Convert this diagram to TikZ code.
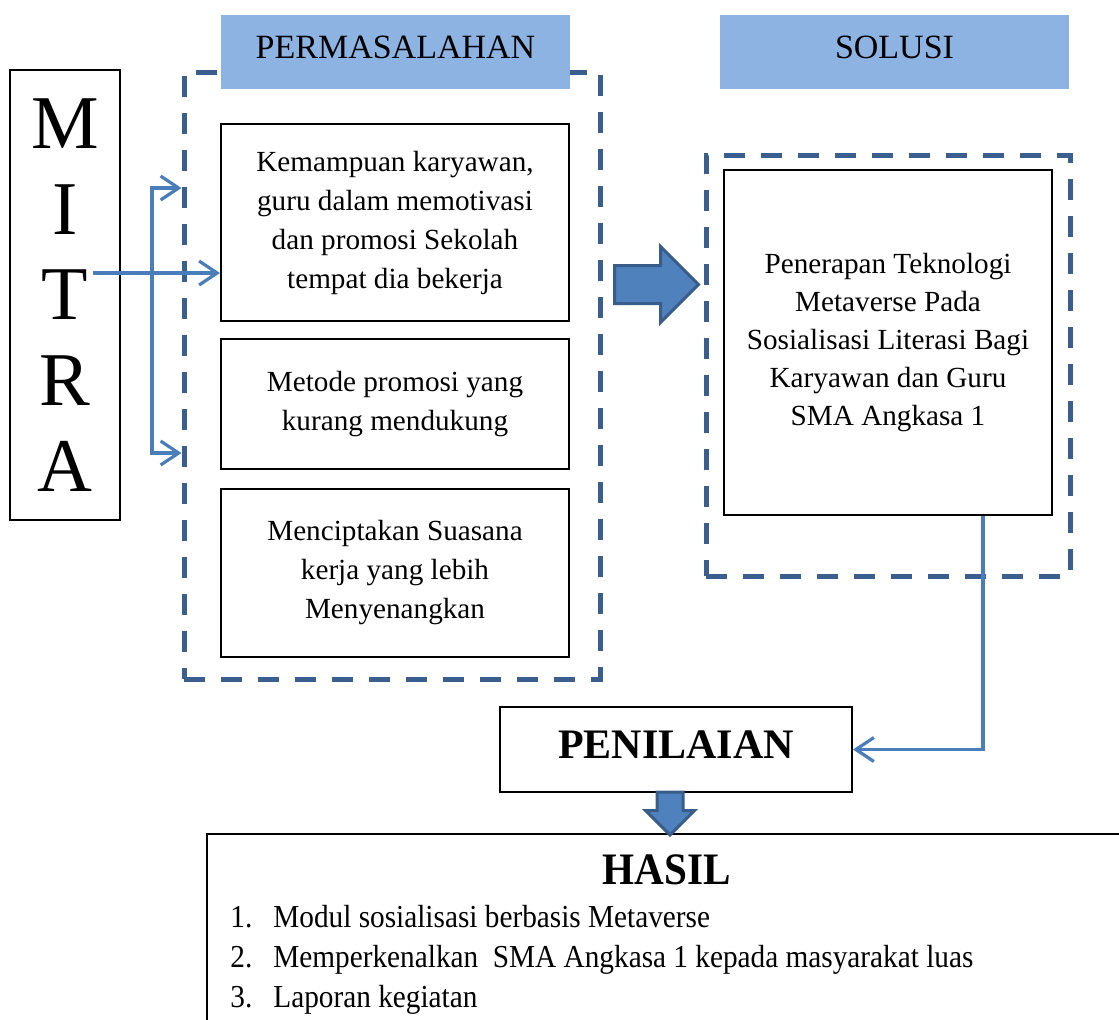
\documentclass[tikz,border=0pt]{standalone}
\usepackage{fontspec}
\setmainfont{Liberation Serif}
\newfontfamily\narrowfont[FakeStretch=0.915]{Liberation Serif}
\usetikzlibrary{arrows.meta,shapes.arrows}
\definecolor{framecol}{HTML}{3A5F8F}
\definecolor{headcol}{HTML}{8DB3E2}
\definecolor{linkcol}{HTML}{4A7EBB}
\definecolor{arrowfill}{HTML}{4F81BD}
\definecolor{arrowline}{HTML}{385D8A}
\begin{document}
\begin{tikzpicture}[x=0.5pt,y=-0.5pt,
    every node/.style={inner sep=0pt, align=center, font=\fontsize{14.6}{19.5}\selectfont},
    box/.style={draw=black, line width=1pt},
    groupframe/.style={draw=framecol, line width=2.5pt, dash pattern=on 10.5pt off 8pt},
    headbox/.style={fill=headcol, minimum width=174.5pt, minimum height=37pt, text depth=5pt,
      font=\fontsize{17}{20}\selectfont},
    >={Straight Barb[length=9pt,width=12pt]},
    link/.style={draw=linkcol, line width=1.6pt, ->},
    blockarrow/.style={single arrow, fill=arrowfill, draw=arrowline, line width=1.5pt,
      single arrow tip angle=90}]
    \clip (0,0) rectangle (1119,1019);

    % frames and headings
    \node[groupframe, minimum width=208pt, minimum height=303.5pt] (probframe) at (392,375.5) {};
    \node[groupframe, minimum width=182pt, minimum height=210.5pt] (solframe) at (888,365.5) {};
    \node[headbox] (probhead) at (395.5,52) {PERMASALAHAN};
    \node[headbox] (solhead)  at (894.5,52) {SOLUSI};

    \node[box, minimum width=55pt, minimum height=225pt,
      font=\fontsize{38}{42.9}\selectfont] (mitra) at (65,295) {M\\I\\T\\R\\A};

    \node[box, minimum width=174pt, minimum height=98.5pt] (kemampuan) at (395,222.5)
      {Kemampuan karyawan,\\guru dalam memotivasi\\dan promosi Sekolah\\tempat dia bekerja};
    \node[box, minimum width=174pt, minimum height=65pt] (metode) at (395,404)
      {Metode promosi yang\\kurang mendukung};
    \node[box, minimum width=174pt, minimum height=84pt] (suasana) at (395,573)
      {Menciptakan Suasana\\kerja yang lebih\\Menyenangkan};

    \node[box, minimum width=164pt, minimum height=172.5pt,
      font=\fontsize{14.6}{19}\selectfont] (penerapan) at (888,342.5)
      {Penerapan Teknologi\\Metaverse Pada\\Sosialisasi Literasi Bagi\\Karyawan dan Guru\\SMA Angkasa 1};

    \node[box, minimum width=176pt, minimum height=42.5pt, text depth=5pt,
      font=\fontsize{21}{25}\selectfont\bfseries] (penilaian) at (676,749.5) {PENILAIAN};

    \node[box, anchor=north west, minimum width=470pt, minimum height=100pt] (hasil) at (206,833) {};
    \node[font=\narrowfont\fontsize{22.5}{26}\selectfont\bfseries] (hasiltitle) at (667,870) {HASIL};
    \node[anchor=west, align=left, font=\narrowfont\fontsize{16}{20}\selectfont] (hasillist) at (230,960)
      {\makebox[21.5pt][l]{1.}Modul sosialisasi berbasis Metaverse\\
       \makebox[21.5pt][l]{2.}Memperkenalkan\ \ SMA Angkasa 1 kepada masyarakat luas\\
       \makebox[21.5pt][l]{3.}Laporan kegiatan};

    % block arrows
    \node[blockarrow, minimum height=42pt, minimum width=36.5pt, inner ysep=8.75pt,
      single arrow head extend=9.5pt] (tosolusi) at (647,284.5) {};
    \node[blockarrow, rotate=-90, minimum height=21.5pt, minimum width=23pt, inner ysep=5.75pt,
      single arrow head extend=5.75pt] (tohasil) at (670,807) {};

    % connectors
    \coordinate (mitraout) at (93,273);
    \draw[link] (mitraout) -- (kemampuan.west |- mitraout);
    \draw[link, <->] (probframe.west |- 0,188) -- (152,188) -- (152,453) -- (probframe.west |- 0,453);
    \draw[link] (penerapan.south -| 983,0) |- (penilaian.east);
  \end{tikzpicture}
\end{document}
